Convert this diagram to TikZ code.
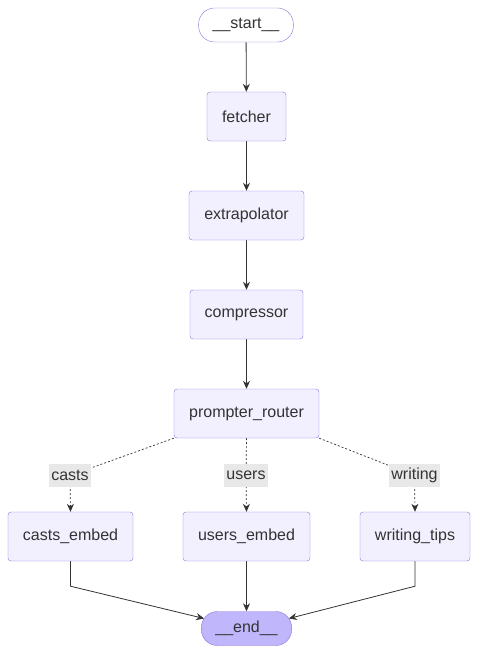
\documentclass[tikz,border=0pt]{standalone}
\usepackage{fontspec}
\setmainfont{Liberation Sans}
\usetikzlibrary{arrows.meta,backgrounds}
\definecolor{nodefill}{HTML}{F2F0FF}
\definecolor{nodeline}{HTML}{9370DB}
\definecolor{endfill}{HTML}{BFB6FC}
\definecolor{edgecol}{HTML}{333333}
\definecolor{lblfill}{HTML}{E8E8E8}

\begin{document}
\begin{tikzpicture}[x=1pt,y=-1pt,
  every node/.style={font=\fontsize{16}{19}\selectfont,text=edgecol},
  state/.style={draw=nodeline,fill=nodefill,rounded corners=3pt,minimum height=49pt,inner xsep=14pt},
  term/.style={draw=nodeline,rounded corners=16pt,minimum height=34pt,inner xsep=14pt},
  lbl/.style={fill=lblfill,inner sep=2.5pt,minimum height=23pt},
  edge/.style={draw=edgecol,line width=0.8pt,-{Stealth[length=8pt,width=7pt]}},
  cond/.style={edge,dash pattern=on 2pt off 2pt,line width=0.7pt}]
\useasboundingbox (0,0) rectangle (478,654);
\node[term,fill=white,minimum width=88pt] (start) at (246,25) {\_\_start\_\_};
\node[state,minimum width=79pt] (fetcher) at (246.5,116.5) {fetcher};
\node[state,minimum width=115pt] (extrapolator) at (246.5,215.5) {extrapolator};
\node[state,minimum width=113pt] (compressor) at (246.5,314.5) {compressor};
\node[state,minimum width=145pt] (router) at (246.5,413.5) {prompter\_router};
\node[lbl] (lcasts) at (70,475.5) {casts};
\node[lbl] (lusers) at (246,475.5) {users};
\node[lbl] (lwriting) at (414.5,475.5) {writing};
\node[state,minimum width=125pt] (casts) at (70.5,536.5) {casts\_embed};
\node[state,minimum width=127pt] (users) at (246.5,536.5) {users\_embed};
\node[state,minimum width=110pt] (writing) at (415,536.5) {writing\_tips};
\node[term,fill=endfill,minimum width=86pt] (end) at (246.5,628.5) {\_\_end\_\_};
\begin{pgfonlayer}{background}
\draw[edge] (start) -- (fetcher);
\draw[edge] (fetcher) -- (extrapolator);
\draw[edge] (extrapolator) -- (compressor);
\draw[edge] (compressor) -- (router);
\draw[cond] (router.south west) -- (lcasts.center) -- (casts.north);
\draw[cond] (router.south) -- (lusers.center) -- (users.north);
\draw[cond] (router.south east) -- (lwriting.center) -- (writing.north);
\draw[edge] (casts.south) -- ++(0,25) -- ([xshift=3pt,yshift=10pt]end.west);
\draw[edge] (users) -- (end);
\draw[edge] (writing.south) -- ++(0,25) -- ([xshift=-3pt,yshift=10pt]end.east);
\end{pgfonlayer}
\end{tikzpicture}
\end{document}
